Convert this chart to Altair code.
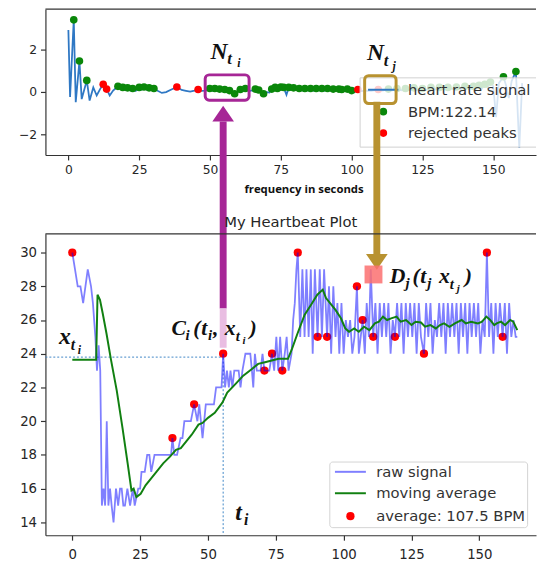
import altair as alt
import pandas as pd

# ------------------------------------------------------------------ data
# upper panel : filtered heart-rate signal
sig_t = [0, 0.6, 1.9, 2.6, 3.9, 4.7, 6.5, 7.5, 8.8, 10.0, 11.2, 12.3, 13.5, 14.6, 15.8, 17.5, 18.4, 19.2,
         20.1, 20.9, 21.8, 22.7, 23.8, 25.0, 25.9, 26.7, 27.6, 28.5, 29.4, 30.2, 31.5, 33.0, 34.5, 36.0,
         38.3, 40.0, 41.5, 43.0, 44.5, 45.8, 47.0, 48.5, 49.9, 50.8, 51.7, 52.6, 53.4, 54.3, 55.2, 56.0,
         56.9, 57.8, 58.7, 59.7, 60.7, 61.6, 62.5, 64.0, 65.0, 66.0, 66.6, 67.2, 68.0, 68.9, 70.0, 71.0,
         71.8, 72.4, 73.0, 73.4, 73.8, 74.4, 75.0, 75.5, 76.0, 77.0, 77.8, 78.6, 79.5, 80.5, 81.5, 82.5,
         83.5, 84.5, 85.5, 86.5, 87.5, 88.5, 89.5, 90.5, 91.5, 92.5, 93.5, 94.5, 95.5, 96.5, 97.5, 98.5,
         99.3, 100.0, 101.0, 102.2, 103.5, 105.0, 107.0, 109.4, 111.0, 113.0, 114.5, 116.0, 117.5, 119.0,
         120.5, 122.0, 123.5, 125.0, 126.5, 128.0, 129.5, 131.0, 132.5, 134.0, 135.5, 137.0, 138.5, 140.0,
         141.5, 143.0, 144.0, 145.0, 146.0, 147.0, 148.0, 149.0, 150.0, 151.0, 152.0, 153.6, 154.5, 155.5,
         156.5, 158.0, 159.2, 160.2]
sig_v = [2.9, -0.25, 3.38, -0.5, 1.44, -0.35, 0.53, -0.42, 0.2, -0.18, 0.12, 0.35, 0.12, -0.18, 0.05, 0.25, 0.12, 0.2,
         0.08, 0.18, 0.06, 0.15, 0.04, 0.2, 0.1, 0.22, 0.1, 0.18, 0.08, 0.15, 0.04, -0.06, -0.02, 0.08,
         0.22, 0.08, 0.04, 0.0, 0.05, 0.1, 0.04, 0.05, 0.15, 0.05, 0.15, 0.04, 0.12, 0.02, 0.1, -0.02,
         0.05, -0.08, -0.1, 0.0, 0.1, 0.03, 0.15, 0.04, 0.06, 0.12, 0.04, 0.08, -0.06, -0.1, -0.02, -0.04,
         0.12, 0.06, 0.2, 0.1, 0.15, 0.08, 0.22, 0.12, 0.2, -0.15, 0.2, 0.1, 0.18, 0.08, 0.15, 0.06,
         0.15, 0.06, 0.15, 0.05, 0.15, 0.06, 0.15, 0.05, 0.15, 0.06, 0.12, 0.04, 0.12, 0.1, 0.03, 0.12,
         0.02, 0.05, -0.02, 0.1, 0.03, 0.05, 0.04, 0.1, 0.05, 0.12, 0.06, 0.15, 0.06, 0.15,
         0.08, 0.18, 0.08, 0.15, 0.08, 0.2, 0.1, 0.2, 0.1, 0.2, 0.12, 0.22, 0.12, 0.25,
         0.12, 0.25, 0.15, 0.3, 0.15, 0.35, 0.2, 0.45, 0.25, -1.2, 0.4, 0.7, 0.3, -0.3,
         0.5, 0.95, -2.65, 0.4]
peak_t = [1.9, 3.9, 6.5, 17.5, 19.2, 20.9, 22.7, 25.0, 26.7, 28.5, 30.2, 49.9, 51.7, 53.4, 55.2, 56.9, 58.7,
          60.7, 62.5, 66.0, 67.2, 68.9, 71.8, 73.0, 73.8, 75.0, 76.0, 77.8, 79.5, 81.5, 83.5, 85.5, 87.5,
          89.5, 91.5, 93.5, 95.5, 96.5, 98.5, 100.0, 113.0, 116.0, 119.0, 122.0, 125.0, 128.0, 131.0,
          134.0, 137.0, 140.0, 143.0, 145.0, 147.0, 149.0, 153.6, 158.0]
peak_v = [3.38, 1.44, 0.53, 0.25, 0.2, 0.18, 0.15, 0.2, 0.22, 0.18, 0.15, 0.15, 0.15, 0.12, 0.1, 0.05, -0.1,
          0.1, 0.15, 0.12, 0.08, -0.1, 0.12, 0.2, 0.15, 0.22, 0.2, 0.2, 0.18, 0.15, 0.15, 0.15, 0.15,
          0.15, 0.15, 0.12, 0.12, 0.1, 0.12, 0.05, 0.12, 0.15, 0.15, 0.18, 0.15, 0.2, 0.2,
          0.2, 0.22, 0.25, 0.25, 0.3, 0.35, 0.45, 0.7, 0.95]
rej_t = [12.3, 13.5, 38.3, 45.8, 102.2, 109.4]
rej_v = [0.35, 0.12, 0.22, 0.1, 0.1, 0.1]

# lower panel : raw signal, moving average, detected peaks
raw_t = [0, 1, 2, 3, 4, 5.7, 6.9, 7.6, 8.5, 9.1, 9.7, 10.3, 10.9, 11.5, 12.1, 12.7, 13.3, 13.9, 14.5, 15.2,
         16.1, 16.9, 17.6, 18.2, 18.8, 19.4, 20.3, 21.3, 22.3, 23.0, 24.3, 25.0, 25.5, 26.7, 27.6, 28.4,
         29.1, 30.3, 33.4, 34.2, 36.4, 36.9, 37.6, 38.6, 39.9, 40.6, 41.3, 43.7, 44.9, 46.1, 46.8, 48.0,
         49.2, 52.2, 53.0, 55.0, 55.6, 56.3, 57.0, 57.7, 58.3, 59.0, 59.7, 61.3, 62.0, 62.7, 63.8, 65.6,
         66.2, 66.7, 67.3, 68.0, 69.4, 70.1, 70.8, 72.6, 73.6, 74.4, 75.2, 75.9, 76.6, 77.4, 78.3, 79.0,
         79.7, 80.8, 81.4, 82.0, 82.6, 83.1, 84.0, 84.8, 85.6, 86.3, 87.1, 87.9, 88.6, 89.4, 90.4, 91.2,
         92.0, 92.8, 93.9, 94.6, 95.4, 96.2, 97.0, 97.7, 98.4, 99.2, 100.0, 100.8, 101.6, 102.4, 103.2,
         104.0, 104.9, 105.6, 106.3, 107.0, 107.8, 108.5, 109.3, 110.0, 110.9, 111.7, 112.5, 113.3, 114.1,
         114.9, 115.7, 116.5, 117.3, 118.1, 118.9, 119.7, 120.5, 121.3, 122.1, 122.9, 123.7, 124.5, 125.3,
         126.1, 126.9, 127.7, 128.5, 129.6, 130.4, 131.2, 132.0, 132.8, 133.6, 134.4, 135.2, 136.0, 136.8,
         137.6, 138.4, 139.2, 140.0, 140.8, 141.6, 142.4, 143.2, 144.0, 144.8, 145.6, 146.4, 147.2, 148.0,
         148.8, 149.6, 150.4, 151.2, 152.0, 152.8, 153.6, 154.4, 155.2, 156.0, 156.8, 157.6, 158.6, 159.4,
         160.2, 161.0, 161.8, 162.6, 163.4, 164.0]
raw_v = [30, 29, 28, 28, 27, 29, 28, 27, 25, 23, 24.5, 23, 15, 16, 15, 20, 15, 16, 15, 14,
         16, 15, 16, 16, 15, 15, 16, 15, 16, 15, 16, 16, 17, 17, 18, 18,
         17, 18, 18, 18, 18, 19, 18, 18, 19, 19, 20, 20, 21, 20, 21, 19,
         21, 21, 22, 22, 24, 22, 23, 22, 23, 22, 23, 23, 22, 23, 24, 24,
         23, 22, 24, 23, 23, 24, 23, 23, 24, 23, 25, 23, 25, 23, 24, 25,
         23, 24, 26, 27, 29, 30, 25, 29, 25, 29, 25, 29, 24, 29, 25, 29,
         25, 29, 25, 28, 24, 28, 25, 27, 24, 27, 24, 26, 25, 26, 24,
         25, 28, 24, 25, 26, 24, 27, 25, 29, 25, 27, 24, 27, 25,
         27, 25, 27, 24, 26, 25, 27, 25, 27, 24, 27, 25, 27, 25,
         27, 24, 27, 25, 24, 27, 25, 27, 24, 26, 25, 27, 25, 27,
         24, 27, 25, 27, 25, 27, 24, 27, 25, 27, 24, 27, 25, 27,
         25, 27, 24, 26, 25, 30, 25, 27, 24, 27, 25, 27, 25, 27,
         24, 27, 25, 26, 25, 25]
ma_t = [0, 8.8, 9.3, 10.2, 11.2, 12.6, 14.2, 16.4, 18.5, 20.4, 21.8, 22.6, 23.6, 25.2, 27.0, 29.0, 31.0,
        33.5, 36.0, 38.2, 40.0, 42.0, 44.0, 46.5, 48.0, 50.0, 52.5, 55.3, 57.1, 60.1, 63.0, 66.2, 68.5,
        71.0, 73.5, 76.0, 79.5, 81.0, 83.0, 85.6, 88.0, 90.3, 92.3, 93.5, 95.0, 97.0, 99.0, 100.6, 102.0,
        103.9, 105.6, 107.5, 109.5, 111.5, 113.0, 114.5, 116.0, 117.5, 119.5, 121.0, 123.0, 125.0, 126.5,
        128.5, 130.0, 132.0, 134.0, 135.5, 137.0, 139.0, 141.0, 143.5, 145.0, 147.0, 149.5, 151.0, 152.6,
        154.0, 155.5, 156.4, 158.0, 159.5, 161.4, 162.5, 164.0]
ma_v = [23.65, 23.65, 27.5, 27.2, 26.4, 25.2, 23.7, 21.8, 19.6, 17.5, 15.9, 16.0, 15.5, 15.7, 16.2, 16.6, 17.0,
        17.5, 17.9, 18.3, 18.4, 18.8, 19.2, 19.8, 19.9, 20.2, 20.5, 21.1, 21.7, 22.2, 22.7, 23.1, 23.4,
        23.5, 23.6, 23.7, 23.7, 24.3, 25.2, 26.3, 26.9, 27.5, 27.8, 27.3, 27.0, 26.6, 26.1, 25.5, 25.3,
        25.5, 25.3, 25.6, 25.4, 25.8, 25.9, 26.2, 26.0, 26.1, 26.2, 25.9, 26.0, 25.7, 25.9,
        25.85, 25.6, 25.7, 25.5, 25.7, 25.8, 25.6, 25.8, 26.0, 25.8, 25.9, 25.8, 25.9, 26.2,
        26.0, 25.7, 25.8, 25.9, 25.7, 26.0, 25.9, 25.4]
avg_t = [0, 36.9, 44.9, 55.6, 70.8, 73.6, 77.4, 83.1, 90.4, 93.9, 104.9, 107.0, 110.9, 118.9, 129.6, 152.8, 158.6]
avg_v = [30, 19, 21, 24, 23, 24, 23, 30, 25, 25, 28, 26, 25, 25, 24, 30, 25]

x_ticks = [0, 25, 50, 75, 100, 125, 150]
top_y_ticks = [-2, 0, 2]
bot_y_ticks = [14, 16, 18, 20, 22, 24, 26, 28, 30]

top_legend = ["heart rate signal", "BPM:122.14", "rejected peaks"]
bot_legend = ["raw signal", "moving average", "average: 107.5 BPM"]
title_text = "My Heartbeat Plot"
top_xlabel = "frequency in seconds"

# highlighted samples C_i and D_j
t_i, x_ti = 55.6, 24.0
t_j, x_tj = 111.0, 28.7

# ------------------------------------------------------------------ layout / style (annotation placement)
TOP_XD = [-8.1, 165.1]
TOP_YD = [-2.98, 3.88]
BOT_XD = [-9.9, 170.9]
BOT_YD = [13.24, 31.11]
W, H_TOP, H_BOT = 498, 148, 306
GAP = 80

SANS = "DejaVu Sans"
SERIF = "Liberation Serif"
BLUE = "#2f78c4"
GREEN = "#0a870a"
RED = "#ff0000"
PURPLE = "#a62696"
PINK = "#e9bde2"
GOLD = "#b89230"
INK = "#111111"

TOP_X = alt.Scale(domain=TOP_XD, nice=False, zero=False)
TOP_Y = alt.Scale(domain=TOP_YD, nice=False, zero=False)
BOT_X = alt.Scale(domain=BOT_XD, nice=False, zero=False)
BOT_Y = alt.Scale(domain=BOT_YD, nice=False, zero=False)

top_xaxis = alt.Axis(values=x_ticks, title=top_xlabel, labelFontSize=12.5, titleFont="Open Sans",
                     titleFontWeight="bold", titleFontSize=11.5, titleColor=INK, titleX=262, titleY=38,
                     titleAlign="center", titleBaseline="alphabetic")
top_yaxis = alt.Axis(values=top_y_ticks, title=None, labelFontSize=12.5)
bot_xaxis = alt.Axis(values=x_ticks, title=None, labelFontSize=13.5, labelPadding=8)
bot_yaxis = alt.Axis(values=bot_y_ticks, title=None, labelFontSize=13.5)


def enc(panel, x2=False, y2=False, **extra):
    if panel == "top":
        xs, ys, xa, ya = TOP_X, TOP_Y, top_xaxis, top_yaxis
    else:
        xs, ys, xa, ya = BOT_X, BOT_Y, bot_xaxis, bot_yaxis
    e = dict(x=alt.X("x:Q", scale=xs, axis=xa), y=alt.Y("y:Q", scale=ys, axis=ya))
    if x2:
        e["x2"] = alt.X2("x2:Q")
    if y2:
        e["y2"] = alt.Y2("y2:Q")
    e.update(extra)
    return e


def df(**cols):
    return pd.DataFrame(cols)


def label(panel, t, v, pieces):
    d = df(x=[t], y=[v])
    out = []
    for txt, dx, dy, size in pieces:
        out.append(alt.Chart(d).mark_text(text=txt, dx=dx, dy=dy, fontSize=size, font=SERIF,
                                          fontWeight="bold", fontStyle="italic", align="left",
                                          baseline="alphabetic", color=INK).encode(**enc(panel)))
    return out


UP = "M-1,0.73L0,-0.73L1,0.73Z"
DOWN = "M-1,-0.73L0,0.73L1,-0.73Z"

# ------------------------------------------------------------------ upper panel
top_layers = [
    alt.Chart(df(x=[TOP_XD[0]], x2=[TOP_XD[1]], y=[TOP_YD[1]])).mark_rule(color="#333", strokeWidth=1.2)
    .encode(**enc("top", x2=True)),
    alt.Chart(df(x=sig_t, y=sig_v)).mark_line(color=BLUE, strokeWidth=1.8).encode(**enc("top")),
    alt.Chart(df(x=peak_t, y=peak_v)).mark_circle(color=GREEN, size=60, opacity=1).encode(**enc("top")),
    alt.Chart(df(x=rej_t, y=rej_v)).mark_circle(color=RED, size=60, opacity=1).encode(**enc("top")),
    # legend
    alt.Chart(df(x=[103.0], x2=[TOP_XD[1]], y=[0.65], y2=[-2.61])).mark_rect(fill="white", opacity=0.8)
    .encode(**enc("top", x2=True, y2=True)),
    alt.Chart(df(x=[103.0, 103.0], x2=[TOP_XD[1], TOP_XD[1]], y=[0.65, -2.61]))
    .mark_rule(color="#d0d0d0", strokeWidth=1).encode(**enc("top", x2=True)),
    alt.Chart(df(x=[103.0], y=[0.65], y2=[-2.61])).mark_rule(color="#d0d0d0", strokeWidth=1)
    .encode(**enc("top", y2=True)),
    alt.Chart(df(x=[105.8], x2=[116.5], y=[0.09])).mark_rule(color=BLUE, strokeWidth=2)
    .encode(**enc("top", x2=True)),
    alt.Chart(df(x=[111.2, 111.2], y=[-0.94, -1.95], c=top_legend[1:])).mark_circle(size=60, opacity=1)
    .encode(**enc("top", color=alt.Color("c:N", scale=alt.Scale(domain=top_legend[1:], range=[GREEN, RED]),
                                         legend=None))),
    alt.Chart(df(x=[119.9] * 3, y=[0.09, -0.94, -1.95], t=top_legend))
    .mark_text(align="left", baseline="middle", font=SANS, fontSize=15, color="#333")
    .encode(**enc("top", text=alt.Text("t:N"))),
    # highlight boxes
    alt.Chart(df(x=[48.3], x2=[63.8], y=[0.79], y2=[-0.40]))
    .mark_rect(fillOpacity=0, stroke=PURPLE, strokeWidth=3, cornerRadius=4)
    .encode(**enc("top", x2=True, y2=True)),
    alt.Chart(df(x=[104.6], x2=[115.7], y=[0.75], y2=[-0.56]))
    .mark_rect(fillOpacity=0, stroke=GOLD, strokeWidth=3, cornerRadius=4)
    .encode(**enc("top", x2=True, y2=True)),
    # arrows from the boxes down to the lower-panel points (drawn past the panel's bottom edge)
    alt.Chart(df(x=[54.65], y=[-1.40], y2=[-10.2])).mark_rule(color=PURPLE, strokeWidth=7)
    .encode(**enc("top", y2=True)),
    alt.Chart(df(x=[54.65], y=[-10.2], y2=[-12.05])).mark_rule(color=PINK, strokeWidth=7)
    .encode(**enc("top", y2=True)),
    alt.Chart(df(x=[54.65], y=[-1.03])).mark_point(shape=UP, size=484, filled=True, color=PURPLE, opacity=1,
                                                    strokeWidth=0).encode(**enc("top")),
    alt.Chart(df(x=[108.9], y=[-0.48], y2=[-7.66])).mark_rule(color=GOLD, strokeWidth=7)
    .encode(**enc("top", y2=True)),
    alt.Chart(df(x=[108.9], y=[-8.01])).mark_point(shape=DOWN, size=484, filled=True, color=GOLD, opacity=1,
                                                    strokeWidth=0).encode(**enc("top")),
]
top_layers += label("top", 50.2, 1.56, [("N", 0, 0, 24), ("t", 17, 6, 17), ("i", 27, 9, 12)])
top_layers += label("top", 105.4, 1.47, [("N", 0, 0, 24), ("t", 17, 6, 17), ("j", 26, 10, 12)])

top = alt.layer(*top_layers).properties(width=W, height=H_TOP)

# ------------------------------------------------------------------ lower panel
bot_layers = [
    alt.Chart(df(x=[BOT_XD[0]], x2=[BOT_XD[1]], y=[BOT_YD[1]])).mark_rule(color="#333", strokeWidth=1.2)
    .encode(**enc("bot", x2=True)),
    alt.Chart(df(x=[BOT_XD[0]], x2=[t_i], y=[23.8])).mark_rule(color="#3f86c6", strokeWidth=1, strokeDash=[2, 2])
    .encode(**enc("bot", x2=True)),
    alt.Chart(df(x=[t_i], y=[x_ti], y2=[BOT_YD[0]])).mark_rule(color="#3f86c6", strokeWidth=1, strokeDash=[2, 2])
    .encode(**enc("bot", y2=True)),
    alt.Chart(df(x=avg_t, y=avg_v)).mark_circle(color=RED, size=70, opacity=1).encode(**enc("bot")),
    alt.Chart(df(x=raw_t, y=raw_v)).mark_line(color="#0000ff", opacity=0.5, strokeWidth=1.8).encode(**enc("bot")),
    alt.Chart(df(x=ma_t, y=ma_v)).mark_line(color="#118011", strokeWidth=2).encode(**enc("bot")),
    # legend
    alt.Chart(df(x=[94.9], x2=[167.8], y=[17.58], y2=[13.69]))
    .mark_rect(fill="white", opacity=0.85, stroke="#cccccc", strokeWidth=1, cornerRadius=3)
    .encode(**enc("bot", x2=True, y2=True)),
    alt.Chart(df(x=[96.8], x2=[108.2], y=[17.0])).mark_rule(color="#0000ff", opacity=0.5, strokeWidth=2)
    .encode(**enc("bot", x2=True)),
    alt.Chart(df(x=[96.8], x2=[108.2], y=[15.73])).mark_rule(color="#118011", strokeWidth=2)
    .encode(**enc("bot", x2=True)),
    alt.Chart(df(x=[102.5], y=[14.37])).mark_circle(color=RED, size=70, opacity=1).encode(**enc("bot")),
    alt.Chart(df(x=[112.0] * 3, y=[17.0, 15.73, 14.37], t=bot_legend))
    .mark_text(align="left", baseline="middle", font=SANS, fontSize=15, color="#333")
    .encode(**enc("bot", text=alt.Text("t:N"))),
    # D_j marker
    alt.Chart(df(x=[t_j], y=[x_tj])).mark_point(shape="square", size=330, filled=True, color="#fb7070",
                                                 opacity=0.85, strokeWidth=0).encode(**enc("bot")),
]
bot_layers += label("bot", 36.6, 25.09, [("C", 0, 0, 22), ("i", 14, 5, 15), ("(", 22, 0, 22), ("t", 30, 0, 22),
                                         ("i", 37, 5, 15), (",", 42, 0, 22), ("x", 54, 0, 22), ("t", 65, 6, 15),
                                         ("i", 72, 9, 11), (")", 79, 0, 22)])
bot_layers += label("bot", 117.0, 28.19, [("D", 0, 0, 22), ("j", 16, 5, 15), ("(", 23, 0, 22), ("t", 31, 0, 22),
                                          ("j", 38, 5, 15), ("x", 50, 0, 22), ("t", 61, 6, 15),
                                          ("j", 68, 9, 11), (")", 76, 0, 22)])
bot_layers += label("bot", -4.89, 24.57, [("x", 0, 0, 24), ("t", 12, 6, 16), ("i", 19, 10, 12)])
bot_layers += label("bot", 60.04, 14.12, [("t", 0, 0, 24), ("i", 9, 5, 16)])

bottom = alt.layer(*bot_layers).properties(
    width=W, height=H_BOT,
    title=alt.TitleParams(title_text, font=SANS, fontSize=15, fontWeight="normal", color="#262626",
                          anchor="middle", offset=7, dy=16, baseline="alphabetic", frame="group"))

chart = (
    alt.vconcat(top, bottom, spacing=GAP, bounds="flush")
    .properties(padding={"left": 10, "right": 0, "top": -4, "bottom": 0})
    .configure_view(stroke=None)
    .configure_axis(grid=False, domainColor="#333", domainWidth=1.2, tickColor="#333", tickWidth=1.2,
                    tickSize=5, labelColor="#262626", labelFont=SANS, labelPadding=4)
)

chart.save("out.html", embed_options={"renderer": "svg", "actions": False})
